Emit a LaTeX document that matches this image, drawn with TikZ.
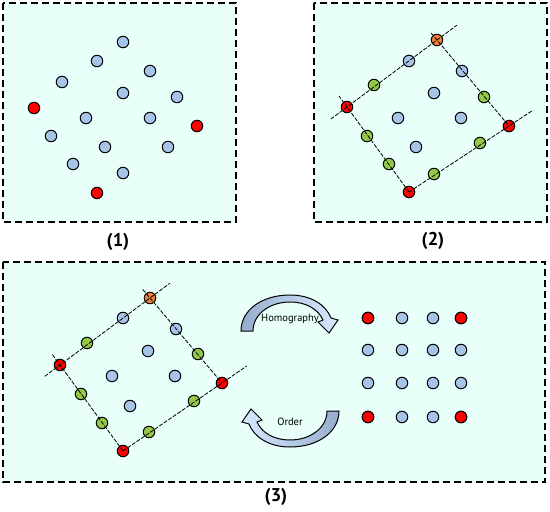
\documentclass[tikz,border=0pt]{standalone}
\usepackage{fontspec}
\setmainfont{PT Sans}
\usetikzlibrary{calc}
\definecolor{panelbg}{RGB}{232,255,250}
\definecolor{ptblue}{RGB}{166,196,232}
\definecolor{ptgreen}{RGB}{146,200,72}
\definecolor{ptorange}{RGB}{240,128,56}
\definecolor{ptred}{RGB}{255,0,0}
\definecolor{arrdark}{RGB}{150,172,204}
\definecolor{arrlight}{RGB}{214,234,255}
\begin{document}
\begin{tikzpicture}[x=1pt,y=-1pt,
  panel/.style={draw=black, fill=panelbg, line width=1.6pt, dash pattern=on 7pt off 4pt},
  pt/.style={circle, draw=black, line width=1pt, minimum size=11.5pt, inner sep=0pt},
  bpt/.style={pt, fill=ptblue},
  gpt/.style={pt, fill=ptgreen},
  rpt/.style={pt, fill=ptred},
  opt/.style={pt, fill=ptorange},
  guide/.style={line width=0.8pt, dash pattern=on 4pt off 1.5pt},
  lab/.style={font=\bfseries\fontsize{18.5}{18.5}\selectfont, inner sep=0pt},
  arrlab/.style={font=\fontsize{10.5}{10.5}\selectfont, inner sep=0pt},
  bigarrow/.style={draw=black, line width=1pt}
]
\useasboundingbox (0,0) rectangle (550,512);
% panels
\draw[panel] (3,3) rectangle (236,222);
\draw[panel] (314,3) rectangle (547,222);
\draw[panel] (3,262) rectangle (545,482);
\node[lab] (l1) at (118,242) {(1)};
\node[lab] (l2) at (433,241) {(2)};
\node[lab] (l3) at (276,497) {(3)};

% panel 1
\foreach [count=\i] \x/\y in {123/42,97/61,150/71,62/82,123/93,177/97,86/118,150/118,51/136,105/147,168/147,73/164,123/173}
  \node[bpt] (pa\i) at (\x,\y) {};
\foreach [count=\i] \x/\y in {34/108,197/126,97/193}
  \node[rpt] (pr\i) at (\x,\y) {};

% panel 2
\node[opt] (qB) at (437,40) {};
\node[rpt] (qA) at (347,107) {};
\node[rpt] (qC) at (509,126) {};
\node[rpt] (qD) at (409,192) {};
\foreach [count=\i] \x/\y in {409/61,462/71,434/93,398/118,461/118,416/147}
  \node[bpt] (qb\i) at (\x,\y) {};
\foreach [count=\i] \x/\y in {374/85,484/97,367/136,480/143,389/164,434/174}
  \node[gpt] (qg\i) at (\x,\y) {};
\draw[guide] ($(qA.center)!-0.18!(qB.center)$) -- ($(qA.center)!1.22!(qB.center)$);
\draw[guide] ($(qB.center)!-0.08!(qC.center)$) -- (qC.center);
\draw[guide] (qD.center) -- ($(qD.center)!1.24!(qC.center)$);
\draw[guide] (qD.center) -- ($(qD.center)!1.13!(qA.center)$);

% panel 3
\node[opt] (sB) at (150,298) {};
\node[rpt] (sA) at (60,365) {};
\node[rpt] (sC) at (222,383) {};
\node[rpt] (sD) at (123,451) {};
\foreach [count=\i] \x/\y in {123/318,176/329,148/351,112/376,175/376,130/406}
  \node[bpt] (sb\i) at (\x,\y) {};
\foreach [count=\i] \x/\y in {87/343,198/354,81/394,194/401,102/423,149/432}
  \node[gpt] (sg\i) at (\x,\y) {};
\draw[guide] ($(sA.center)!-0.17!(sB.center)$) -- ($(sA.center)!1.22!(sB.center)$);
\draw[guide] ($(sB.center)!-0.1!(sC.center)$) -- (sC.center);
\draw[guide] (sD.center) -- ($(sD.center)!1.25!(sC.center)$);
\draw[guide] (sD.center) -- ($(sD.center)!1.13!(sA.center)$);

% grid
\foreach [count=\j] \y in {318,350,383,417}
  \foreach [count=\i] \x in {368,402,433,461}
    \node[bpt] (g\j\i) at (\x,\y) {};
\node[rpt] (gr1) at (g11) {};
\node[rpt] (gr2) at (g14) {};
\node[rpt] (gr3) at (g41) {};
\node[rpt] (gr4) at (g44) {};

% curved arrows
\shade[bigarrow, left color=arrdark, right color=arrlight]
  (241,331) .. controls (241,310) and (262,295) .. (290,295)
  .. controls (311,295) and (326,305) .. (331,318)
  -- (338,320) -- (329,333) -- (318,322) -- (323,320)
  .. controls (318,309) and (306,302) .. (290,302)
  .. controls (270,302) and (253,314) .. (253,331) -- cycle;
\begin{scope}[rotate around={180:(290,371)}]
\shade[bigarrow, left color=arrlight, right color=arrdark]
  (241,331) .. controls (241,310) and (262,295) .. (290,295)
  .. controls (311,295) and (326,305) .. (331,318)
  -- (338,320) -- (329,333) -- (318,322) -- (323,320)
  .. controls (318,309) and (306,302) .. (290,302)
  .. controls (270,302) and (253,314) .. (253,331) -- cycle;
\end{scope}
\node[arrlab] (th) at (290,319) {Homography};
\node[arrlab] (to) at (290,422) {Order};
\end{tikzpicture}
\end{document}
